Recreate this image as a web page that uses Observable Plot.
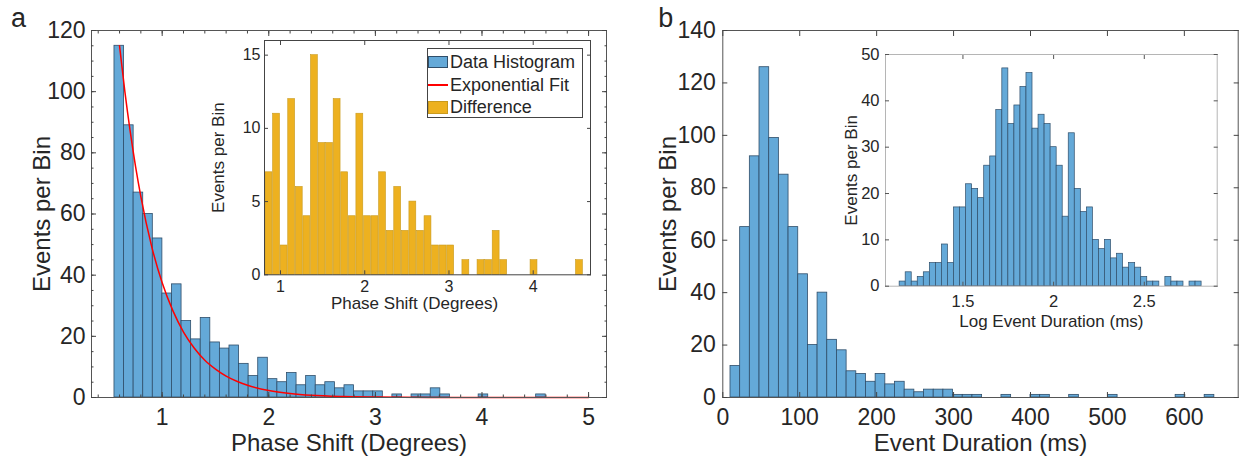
<!DOCTYPE html>
<html><head><meta charset="utf-8">
<script src="https://cdn.jsdelivr.net/npm/d3@7"></script>
<script src="https://cdn.jsdelivr.net/npm/@observablehq/plot@0.6"></script>
<style>
body{margin:0;background:#fff;}
#root{position:relative;width:1243px;height:458px;overflow:hidden;font-family:'Liberation Sans',Arial,Helvetica,sans-serif;color:#262626;}
#root > svg{position:absolute;overflow:visible;}
.legend{position:absolute;box-sizing:border-box;border:1px solid #444;background:#fff;font-size:18px;line-height:22px;}
.legend .row{position:absolute;left:0;height:22px;white-space:nowrap;}
.legend .sw{position:absolute;left:0;width:20px;}
.legend .tx{position:absolute;left:22px;top:0;}
</style></head><body><div id="root"></div>
<script>
// ---------------- data ----------------
// Panel a: phase shift histogram (bins of equal width)
const phaseBinStart = 0.5525;
const phaseBinWidth = 0.0899;
const phaseCounts = [115, 89, 67, 60, 52, 34, 37, 25, 19, 26, 18, 16, 17, 11, 7, 13, 6, 5, 8, 4, 7, 4, 5, 3, 4, 2, 2, 2, 0, 1, 0, 1, 1, 3, 1, 0, 0, 0, 1, 0, 0, 0, 0, 0, 1];
// exponential fit
const fitX = [0.6, 0.65, 0.7, 0.75, 0.8, 0.9, 1.0, 1.1, 1.2, 1.3, 1.4, 1.5, 1.6, 1.7, 1.8, 2.0, 2.2, 2.4, 2.7, 3.0, 3.5, 4.0, 5.0];
const fitY = [115, 100, 87, 75.6, 65.7, 49.6, 37.5, 28.4, 21.4, 16.2, 12.2, 9.3, 7.0, 5.3, 4.0, 2.3, 1.3, 0.7, 0.3, 0.15, 0.03, 0.01, 0];
// inset a: difference, starting at bin index 3 of the phase histogram
const diffFirstBin = 3;
const diffCounts = [7, 11, 2, 12, 6, 4, 15, 9, 9, 12, 7, 4, 11, 4, 4, 7, 3, 6, 3, 5, 3, 4, 2, 2, 2, 0, 1, 0, 1, 1, 3, 1, 0, 0, 0, 1, 0, 0, 0, 0, 0, 1];
// Panel b: event duration histogram
const durBinStart = 10.0;
const durBinWidth = 12.58;
const durCounts = [12, 65, 92, 126, 99, 85, 65, 47, 20, 40, 22, 18, 10, 9, 6, 9, 5, 6, 3, 2, 3, 3, 3, 1, 1, 1, 0, 0, 1, 0, 0, 1, 1, 0, 0, 1, 0, 0, 0, 1, 0, 0, 0, 0, 0, 0, 1, 0, 0, 1];
// inset b: log event duration histogram
const logBinStart = 1.151;
const logBinWidth = 0.0333;
const logCounts = [1, 3, 1, 2, 3, 5, 5, 9, 5, 17, 17, 22, 21, 19, 26, 28, 38, 47, 35, 39, 43, 46, 34, 37, 35, 30, 26, 15, 33, 21, 16, 17, 10, 8, 10, 6, 7, 4, 5, 4, 2, 1, 1, 0, 2, 1, 1, 0, 1, 1];

// ticks
const aXTicks = [1, 2, 3, 4, 5];
const aXMinor = d3.range(0.4, 5.01, 0.2);
const aYTicks = [0, 20, 40, 60, 80, 100, 120];
const aYMinor = d3.range(0, 121, 5);
const aiXTicks = [1, 2, 3, 4];
const aiYTicks = [0, 5, 10, 15];
const bXTicks = [0, 100, 200, 300, 400, 500, 600];
const bYTicks = [0, 20, 40, 60, 80, 100, 120, 140];
const biXTicks = [1.5, 2, 2.5];
const biYTicks = [0, 10, 20, 30, 40, 50];

// labels
const yLabel = "Events per Bin";
const aXLabel = "Phase Shift (Degrees)";
const bXLabel = "Event Duration (ms)";
const biXLabel = "Log Event Duration (ms)";
const legendLabels = ["Data Histogram", "Exponential Fit", "Difference"];

// ---------------- styles ----------------
const FONT = "'Liberation Sans', Arial, Helvetica, sans-serif";
const BLUE = "#64a9d8";
const EDGE = "#2f4e6a";
const RED = "#ff0000";
const YELLOW = "#EDB120";
const YEDGE = "#c99a1e";

function bins(start, width, counts, offset = 0) {
  return counts.map((c, i) => ({x1: start + (i + offset) * width, x2: start + (i + offset + 1) * width, count: c}))
    .filter(d => d.count > 0);
}

const fmt = d => String(d);

function boxAxes({xTicks, yTicks, xMinor = [], yMinor = [], len, minorLen, fontSize, xPad, yPad, stroke}) {
  const none = () => "";
  const m = [];
  for (const [t, L] of [[xTicks, len], [xMinor, minorLen]]) {
    if (!t.length) continue;
    m.push(Plot.axisX(t, {anchor: "bottom", tickSize: -L, tickFormat: none, label: null, stroke}));
    m.push(Plot.axisX(t, {anchor: "top", tickSize: -L, tickFormat: none, label: null, stroke}));
  }
  for (const [t, L] of [[yTicks, len], [yMinor, minorLen]]) {
    if (!t.length) continue;
    m.push(Plot.axisY(t, {anchor: "left", tickSize: -L, tickFormat: none, label: null, stroke}));
    m.push(Plot.axisY(t, {anchor: "right", tickSize: -L, tickFormat: none, label: null, stroke}));
  }
  m.push(Plot.axisX(xTicks, {anchor: "bottom", tickSize: 0, tickPadding: xPad, fontSize, label: null, tickFormat: fmt}));
  m.push(Plot.axisY(yTicks, {anchor: "left", tickSize: 0, tickPadding: yPad, fontSize, label: null, tickFormat: fmt}));
  return m;
}

function place(svg, left, top) {
  svg.style.left = left + "px";
  svg.style.top = top + "px";
  document.getElementById("root").appendChild(svg);
}

function yTitle(dx, fontSize) {
  return Plot.text([yLabel], {text: d => d, frameAnchor: "left", rotate: -90, dx, fontSize, textAnchor: "middle", lineAnchor: "middle"});
}
function xTitle(label, dy, fontSize, dx = 0) {
  return Plot.text([label], {text: d => d, frameAnchor: "bottom", dy, dx, fontSize, textAnchor: "middle", lineAnchor: "middle"});
}

const baseStyle = {fontFamily: FONT, color: "#262626", background: "transparent", overflow: "visible"};

// ---------------- panel a ----------------
const fitData = fitX.map((x, i) => ({x, y: fitY[i]}));
const plotA = Plot.plot({
  width: 620, height: 458,
  marginLeft: 91, marginRight: 14, marginTop: 30, marginBottom: 61,
  x: {domain: [0.337, 5.168]},
  y: {domain: [0, 120]},
  style: baseStyle,
  marks: [
    Plot.rect(bins(phaseBinStart, phaseBinWidth, phaseCounts), {x1: "x1", x2: "x2", y1: () => 0, y2: "count", fill: BLUE, stroke: EDGE, strokeWidth: 0.8}),
    Plot.line(fitData, {x: "x", y: "y", stroke: RED, strokeWidth: 1.5, curve: "monotone-x"}),
    Plot.frame({stroke: "#555"}),
    ...boxAxes({xTicks: aXTicks, yTicks: aYTicks, xMinor: aXMinor, yMinor: aYMinor, len: 5, minorLen: 2.5, fontSize: 23, xPad: 11, yPad: 6, stroke: "#444"}),
    yTitle(-49, 24),
    xTitle(aXLabel, 46, 24),
    Plot.text(["a"], {text: d => d, frameAnchor: "top-left", dx: -73, dy: -12, fontSize: 27, textAnchor: "middle", lineAnchor: "middle"})
  ]
});
place(plotA, 0, 0);

// ---------------- inset a ----------------
const plotAI = Plot.plot({
  width: 420, height: 290,
  marginLeft: 84, marginRight: 10, marginTop: 10, marginBottom: 45.7,
  x: {domain: [0.81, 4.68]},
  y: {domain: [0, 16]},
  style: baseStyle,
  marks: [
    Plot.frame({fill: "white", stroke: null}),
    Plot.rect(bins(phaseBinStart, phaseBinWidth, diffCounts, diffFirstBin), {x1: "x1", x2: "x2", y1: () => 0, y2: "count", fill: YELLOW, stroke: YEDGE, strokeWidth: 0.6, insetRight: 0.7}),
    Plot.frame({stroke: "#444"}),
    ...boxAxes({xTicks: aiXTicks, yTicks: aiYTicks, len: 4, fontSize: 16, xPad: 6, yPad: 4, stroke: "#444"}),
    yTitle(-46, 17),
    xTitle(aXLabel, 29, 17, -13)
  ]
});
place(plotAI, 180, 30);

// legend (HTML)
const leg = document.createElement("div");
leg.className = "legend";
Object.assign(leg.style, {left: "427px", top: "48px", width: "156px", height: "70px"});
const swatches = [
  {top: 13, h: 12.6, bg: BLUE, border: "1px solid " + EDGE},
  {top: 36, h: 1.6, bg: RED, border: "none"},
  {top: 58, h: 13, bg: YELLOW, border: "1px solid " + YEDGE}
];
legendLabels.forEach((lab, i) => {
  const row = document.createElement("div");
  row.className = "row";
  row.style.top = (swatches[i].top - 11) + "px";
  const sw = document.createElement("div");
  sw.className = "sw";
  Object.assign(sw.style, {top: (11 - swatches[i].h / 2) + "px", height: swatches[i].h + "px", background: swatches[i].bg, border: swatches[i].border, boxSizing: "border-box"});
  const tx = document.createElement("div");
  tx.className = "tx";
  tx.textContent = lab;
  row.appendChild(sw); row.appendChild(tx);
  leg.appendChild(row);
});
document.getElementById("root").appendChild(leg);

// ---------------- panel b ----------------
const plotB = Plot.plot({
  width: 623, height: 458,
  marginLeft: 102.3, marginRight: 5.3, marginTop: 30, marginBottom: 61,
  x: {domain: [0, 670]},
  y: {domain: [0, 140]},
  style: baseStyle,
  marks: [
    Plot.rect(bins(durBinStart, durBinWidth, durCounts), {x1: "x1", x2: "x2", y1: () => 0, y2: "count", fill: BLUE, stroke: EDGE, strokeWidth: 0.8}),
    Plot.frame({stroke: "#555"}),
    ...boxAxes({xTicks: bXTicks, yTicks: bYTicks, len: 5, fontSize: 23, xPad: 11, yPad: 7, stroke: "#444"}),
    yTitle(-54.3, 24),
    xTitle(bXLabel, 46, 24),
    Plot.text(["b"], {text: d => d, frameAnchor: "top-left", dx: -57, dy: -12, fontSize: 27, textAnchor: "middle", lineAnchor: "middle"})
  ]
});
place(plotB, 620, 0);

// ---------------- inset b ----------------
const plotBI = Plot.plot({
  width: 410, height: 290,
  marginLeft: 65, marginRight: 13.3, marginTop: 10, marginBottom: 48.3,
  x: {domain: [1.073, 2.902]},
  y: {domain: [0, 50]},
  style: baseStyle,
  marks: [
    Plot.frame({fill: "white", stroke: null}),
    Plot.rect(bins(logBinStart, logBinWidth, logCounts), {x1: "x1", x2: "x2", y1: () => 0, y2: "count", fill: BLUE, stroke: EDGE, strokeWidth: 0.7}),
    Plot.frame({stroke: "#b5b5b5"}),
    ...boxAxes({xTicks: biXTicks, yTicks: biYTicks, len: 4, fontSize: 16.5, xPad: 9, yPad: 6, stroke: "#555"}),
    yTitle(-34, 17),
    xTitle(biXLabel, 35, 17)
  ]
});
place(plotBI, 820, 44);
</script></body></html>
